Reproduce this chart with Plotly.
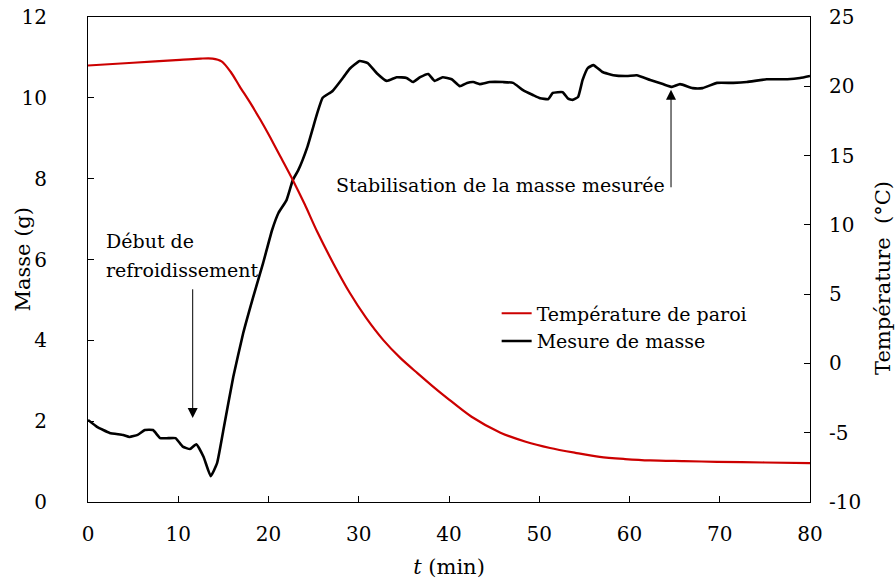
import plotly.graph_objects as go

# Temperature de paroi (°C), right axis
temp_t = [0, 5, 10.2, 12.5, 13.8, 14.8, 15.8, 16.8, 18.0, 19.1, 20.2, 21.3, 22.8, 24.0, 25.4,
          27.2, 29.0, 30.8, 32.7, 34.6, 36.5, 38.2, 39.8, 42.5, 45.7, 48.5, 51.2, 54.0,
          56.7, 59.5, 62.3, 66.0, 69.7, 75.0, 80.0]
temp_v = [21.5, 21.7, 21.9, 22.0, 22.0, 21.8, 21.05, 20.0, 18.78, 17.58, 16.3, 14.95, 13.1, 11.5, 9.5,
          7.2, 5.1, 3.3, 1.7, 0.4, -0.7, -1.65, -2.5, -3.85, -5.0, -5.65, -6.1, -6.45,
          -6.75, -6.9, -7.0, -7.05, -7.1, -7.15, -7.2]

# Mesure de masse (g), left axis
mass_t = [0, 1.0, 2.4, 3.9, 4.6, 5.5, 6.3, 7.2, 8.0, 8.9, 9.7, 10.5, 11.3, 12.0, 12.8,
          13.6, 14.3, 15.0, 16.1, 17.2, 18.3, 19.4, 20.4, 21.1, 22.0, 22.7, 23.3, 24.3,
          25.4, 26.0, 27.1, 28.3, 29.0, 30.1, 31.0, 32.0, 33.1, 34.2, 35.3, 36.0, 36.8,
          37.7, 38.4, 39.3, 40.3, 41.2, 42.0, 42.7, 43.4, 44.5, 46.0, 47.1, 48.2, 49.3,
          50.1, 51.0, 51.5, 52.6, 53.2, 53.7, 54.3, 54.8, 55.4, 56.0, 57.0, 58.2, 59.7,
          60.8, 62.3, 63.7, 64.7, 65.6, 67.0, 68.1, 69.7, 71.5, 73.0, 75.2, 77.5, 78.9, 80.0]
mass_v = [2.03, 1.86, 1.71, 1.66, 1.61, 1.66, 1.78, 1.78, 1.58, 1.58, 1.58, 1.37, 1.31, 1.43, 1.12,
          0.64, 0.96, 1.78, 3.1, 4.18, 5.07, 5.91, 6.73, 7.15, 7.47, 7.97, 8.21, 8.78,
          9.62, 10.0, 10.17, 10.51, 10.72, 10.91, 10.86, 10.61, 10.42, 10.51, 10.49, 10.39, 10.51,
          10.59, 10.42, 10.51, 10.46, 10.29, 10.37, 10.39, 10.34, 10.39, 10.39, 10.37, 10.19, 10.07,
          9.99, 9.97, 10.12, 10.14, 9.98, 9.95, 10.02, 10.44, 10.74, 10.81, 10.64, 10.56, 10.54,
          10.56, 10.44, 10.34, 10.27, 10.34, 10.24, 10.24, 10.37, 10.37, 10.39, 10.46, 10.46, 10.49, 10.54]

x_ticks = [0, 10, 20, 30, 40, 50, 60, 70, 80]
y_ticks = [0, 2, 4, 6, 8, 10, 12]
y2_ticks = [-10, -5, 0, 5, 10, 15, 20, 25]
y2_labels = ["-10", "-5", "0", "5", "10", "15", "20", "25"]

FONT = "DejaVu Serif"
RED = "#cc0000"
TICK = 20
TXT = 19
TITLE = 21

fig = go.Figure()
fig.add_trace(go.Scatter(x=temp_t, y=temp_v, mode="lines", name="Température de paroi",
                         line=dict(color=RED, width=2.2, shape="spline", smoothing=0.8),
                         yaxis="y2"))
fig.add_trace(go.Scatter(x=mass_t, y=mass_v, mode="lines", name="Mesure de masse",
                         line=dict(color="black", width=2.6, shape="spline", smoothing=0.4),
                         yaxis="y"))

axis_common = dict(showgrid=False, zeroline=False, showline=True, linecolor="black",
                   linewidth=1, ticks="inside", ticklen=6, tickcolor="black", automargin=False,
                   ticklabeloverflow="allow",
                   tickfont=dict(family=FONT, size=TICK, color="black"))

fig.update_layout(
    width=896, height=583,
    margin=dict(l=88, r=86, t=17, b=81),
    paper_bgcolor="white", plot_bgcolor="white",
    font=dict(family=FONT, size=TXT, color="black"),
    showlegend=True,
    legend=dict(x=0.566, y=0.428, xanchor="left", yanchor="top",
                bgcolor="rgba(0,0,0,0)", font=dict(family=FONT, size=TXT),
                itemwidth=30, tracegroupgap=0),
    xaxis=dict(range=[0, 80], tickvals=x_ticks, mirror=True, ticklabelstandoff=14,
               title=dict(text="<i>t</i> (min)", font=dict(family=FONT, size=TITLE), standoff=14),
               **axis_common),
    yaxis=dict(range=[0, 12], tickvals=y_ticks, ticklabelstandoff=36, **axis_common),
    yaxis2=dict(range=[-10, 25], tickvals=y2_ticks, ticktext=y2_labels, overlaying="y",
                side="right", ticklabelstandoff=14, **axis_common),
)

# Axis titles (vertical)
fig.add_annotation(x=0, y=0.5, xref="paper", yref="paper", xshift=-66, text="Masse (g)",
                   textangle=-90, showarrow=False, xanchor="center", yanchor="middle",
                   font=dict(family=FONT, size=TITLE))
fig.add_annotation(x=1, y=0.462, xref="paper", yref="paper", xshift=73, text="Température  (°C)",
                   textangle=-90, showarrow=False, xanchor="center", yanchor="middle",
                   font=dict(family=FONT, size=TITLE))

# Annotations: texts
fig.add_annotation(x=1.8, y=6.45, xref="x", yref="y", text="Début de", showarrow=False,
                   xanchor="left", yanchor="middle", font=dict(family=FONT, size=TXT))
fig.add_annotation(x=1.8, y=5.75, xref="x", yref="y", text="refroidissement", showarrow=False,
                   xanchor="left", yanchor="middle", font=dict(family=FONT, size=TXT))
fig.add_annotation(x=27.3, y=7.85, xref="x", yref="y", text="Stabilisation de la masse mesurée",
                   showarrow=False, xanchor="left", yanchor="middle", font=dict(family=FONT, size=TXT))

# Arrows
fig.add_annotation(x=11.6, y=2.08, ax=11.6, ay=5.3, xref="x", yref="y", axref="x", ayref="y",
                   text="", showarrow=True, arrowhead=2, arrowsize=2, arrowwidth=1, arrowcolor="black")
fig.add_annotation(x=64.6, y=10.2, ax=64.6, ay=7.75, xref="x", yref="y", axref="x", ayref="y",
                   text="", showarrow=True, arrowhead=2, arrowsize=2, arrowwidth=1, arrowcolor="black")

# remove the default 8px page margin so the 896x583 figure fills the window exactly
fig.write_html("out.html", config={"displayModeBar": False},
               post_script="document.body.style.margin='0';document.body.style.overflow='hidden';")
